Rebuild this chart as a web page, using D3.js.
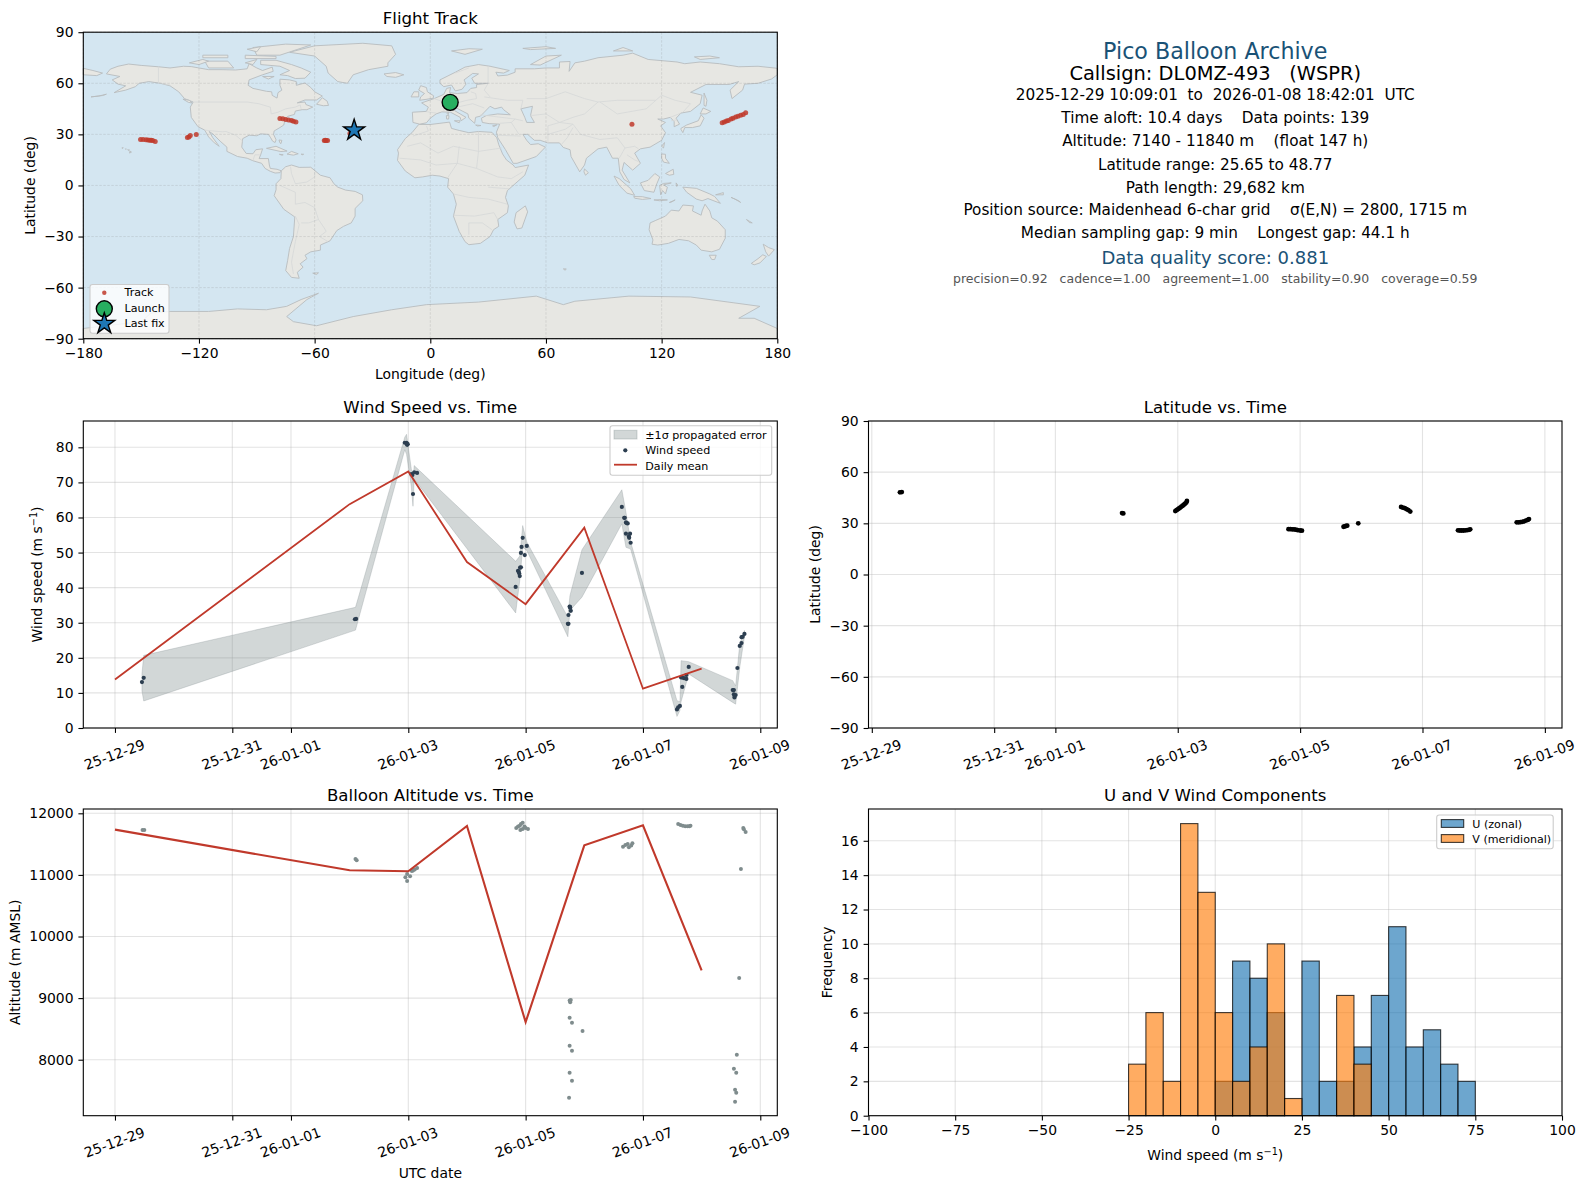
<!DOCTYPE html>
<html>
<head>
<meta charset="utf-8">
<script src="https://cdn.jsdelivr.net/npm/d3@7"></script>
<style>
  html, body { margin: 0; background: #fff; }
  svg { display: block; }
  text { font-family: "DejaVu Sans", sans-serif; white-space: pre; fill: #000; }
</style>
</head>
<body>
<svg id="fig"></svg>
<script>
const [WIDTH, HEIGHT] = [1586, 1189]

// all times are days after 2025-12-29 00:00 UTC
const dateTicks = [0, 2, 3, 5, 7, 9, 11]
const meanDays = [0, 4, 5, 6, 7, 8, 9, 10]

const windDays = [0.46, 0.49, 4.09, 4.11, 4.94, 4.97, 4.98, 4.98, 4.99, 5.05, 5.07, 5.08, 5.10, 5.15,
    6.83, 6.87, 6.88, 6.89, 6.90, 6.905, 6.92, 6.92, 6.93, 6.95, 6.985, 7.02,
    7.72, 7.73, 7.73, 7.755, 7.76, 7.75, 7.77, 7.96,
    8.64, 8.68, 8.69, 8.71, 8.72, 8.74, 8.71, 8.78, 8.76, 8.765, 8.79,
    9.58, 9.60, 9.63, 9.65, 9.67, 9.70, 9.74, 9.74, 9.67, 9.78,
    10.53, 10.55, 10.55, 10.56, 10.58, 10.56, 10.61, 10.65, 10.68, 10.68, 10.70, 10.73]
const windSpeed = [13.1, 14.3, 31.0, 31.1, 81.3, 81.3, 80.7, 80.9, 80.9, 72.4, 72.1, 66.7, 72.9, 72.7,
    40.2, 44.8, 44.6, 44.1, 43.3, 45.7, 45.8, 49.9, 51.6, 54.2, 49.3, 51.9,
    29.7, 29.7, 32.2, 34.5, 34.3, 34.6, 33.4, 44.2,
    63.0, 59.9, 59.9, 58.6, 58.4, 58.3, 55.4, 55.4, 54.6, 54.2, 52.8,
    5.3, 5.9, 6.3, 14.4, 14.4, 14.2, 14.0, 15.1, 11.7, 17.4,
    10.8, 10.8, 9.6, 9.2, 9.4, 8.7, 17.1, 23.4, 24.2, 25.9, 26.0, 26.8]

const bandDays = [0.46, 0.49, 4.10, 4.94, 4.97, 5.05, 5.08, 5.10, 6.83, 6.90, 6.95, 7.02, 7.72, 7.755, 7.96, 8.64, 8.71, 8.79, 9.58, 9.63, 9.65, 9.78, 10.53, 10.58, 10.65, 10.73]
const bandLow = [10.5, 7.7, 27.9, 79.3, 78.0, 69.0, 63.2, 71.0, 32.8, 42.0, 51.5, 50.6, 26.0, 33.5, 37.3, 58.2, 51.5, 51.0, 3.3, 5.0, 7.5, 15.4, 7.3, 6.8, 17.3, 26.0]
const bandHigh = [15.5, 20.7, 34.4, 82.9, 83.7, 74.0, 70.0, 74.8, 47.5, 49.0, 57.7, 53.0, 31.6, 37.7, 50.8, 67.9, 61.5, 53.0, 7.8, 7.5, 19.2, 18.9, 13.5, 12.0, 24.0, 27.8]
const windMean = [13.8, 63.8, 73.1, 47.3, 35.3, 57.1, 11.2, 16.9]

const altDays = [0.47, 0.50, 4.10, 4.12, 4.95, 4.98, 4.98, 5.03, 5.06, 5.08, 5.11, 5.15,
    6.84, 6.87, 6.90, 6.92, 6.95, 6.91, 6.95, 6.98, 7.00, 7.04,
    7.75, 7.77, 7.76, 7.75, 7.79, 7.97, 7.75, 7.79, 7.75, 7.79, 7.74,
    8.66, 8.70, 8.74, 8.76, 8.80, 8.82,
    9.60, 9.64, 9.68, 9.72, 9.76, 9.79, 9.81,
    10.71, 10.72, 10.75, 10.67, 10.64, 10.60, 10.55, 10.59, 10.57, 10.59, 10.57]
const altitude = [11730, 11730, 11259, 11237, 10962, 11016, 10902, 10978, 11064, 11070, 11086, 11113,
    11762, 11784, 11800, 11827, 11848, 11730, 11746, 11784, 11762, 11746,
    8960, 8970, 8933, 8680, 8598, 8468, 8225, 8144, 7787, 7657, 7381,
    11459, 11486, 11503, 11449, 11476, 11514,
    11827, 11811, 11800, 11789, 11789, 11789, 11800,
    11762, 11740, 11697, 11097, 9328, 8079, 7852, 7787, 7511, 7462, 7316]
const altMean = [11735, 11075, 11060, 11795, 8610, 11480, 11805, 9450]

const latDays = [0.46, 0.49, 4.09, 4.11, 4.96, 4.98, 5.00, 5.02, 5.04, 5.06, 5.08, 5.10, 5.12, 5.14, 5.15,
    6.81, 6.84, 6.87, 6.90, 6.93, 6.96, 7.00, 7.03, 7.71, 7.73, 7.75, 7.77, 7.95,
    8.65, 8.68, 8.71, 8.74, 8.77, 8.80, 9.58, 9.61, 9.64, 9.67, 9.70, 9.73, 9.76, 9.78,
    10.54, 10.57, 10.60, 10.63, 10.66, 10.69, 10.72, 10.74]
const latitude = [48.2, 48.3, 36.0, 35.8, 37.2, 37.7, 38.2, 38.7, 39.2, 39.8, 40.3, 40.9, 41.5, 42.2, 43.1,
    26.6, 26.6, 26.5, 26.4, 26.3, 26.0, 25.8, 25.7, 28.0, 28.2, 28.5, 28.6, 30.0,
    39.6, 39.2, 38.9, 38.3, 37.7, 36.9, 25.9, 25.8, 25.8, 25.8, 25.9, 26.0, 26.2, 26.5,
    30.6, 30.6, 30.7, 30.9, 31.2, 31.6, 32.0, 32.5]

const trackLon = [-150.3, -149, -147.5, -146.5, -145.5, -144.8, -144, -142.7, -126, -125.2, -124.5, -121.4,
    -78, -76.5, -75, -73.5, -72, -71, -69.7, -55, -54.5, -54, -53.3, -41.7,
    151.4, 152.5, 153.6, 154.6, 156, 157, 158.4, 159.6, 161, 162.3, 163.6, 104.6]
const trackLat = [27, 27, 26.9, 26.7, 26.6, 26.5, 26.4, 25.8, 28.1, 28.5, 29.3, 29.9,
    39.3, 39.1, 38.8, 38.5, 38.1, 37.7, 37.2, 26.4, 26.5, 26.4, 26.4, 30.5,
    36.8, 37.2, 37.8, 38.2, 39, 39.4, 40.2, 40.6, 41.2, 41.6, 42.7, 36]
const launchLonLat = [10.3, 48.8]
const lastFixLonLat = [-39.5, 32.4]

const uBinStarts = [0, 5, 10, 15, 25, 30, 35, 40, 45, 50, 55, 60, 65, 70]
const uCounts = [2, 9, 8, 6, 9, 2, 2, 4, 7, 11, 4, 5, 3, 2]
const vBinStarts = [-25, -20, -15, -10, -5, 0, 5, 10, 15, 20, 35, 40]
const vCounts = [3, 6, 2, 17, 13, 6, 2, 4, 10, 1, 7, 3]

const infoLines = [
    ['Pico Balloon Archive', 51, 22.2, '#1a5276'],
    ['Callsign: DL0MZ-493   (WSPR)', 73.5, 19.44, '#000'],
    ['2025-12-29 10:09:01  to  2026-01-08 18:42:01  UTC', 95, 15.28, '#000'],
    ['Time aloft: 10.4 days    Data points: 139', 118, 15.28, '#000'],
    ['Altitude: 7140 - 11840 m    (float 147 h)', 141, 15.28, '#000'],
    ['Latitude range: 25.65 to 48.77', 164.5, 15.28, '#000'],
    ['Path length: 29,682 km', 187.5, 15.28, '#000'],
    ['Position source: Maidenhead 6-char grid    σ(E,N) = 2800, 1715 m', 210, 15.28, '#000'],
    ['Median sampling gap: 9 min    Longest gap: 44.1 h', 233, 15.28, '#000'],
    ['Data quality score: 0.881', 257, 18, '#1a5276'],
    ['precision=0.92   cadence=1.00   agreement=1.00   stability=0.90   coverage=0.59', 278, 12.5, '#555'],
]

// rough coastlines, lon/lat
const landPolygons = [
    // north and central america
    [[-168,65.5],[-166,68.3],[-162,70],[-156.5,71.3],[-150,70.5],[-141,69.7],[-135,69],[-128,70],[-124,69.8],[-115,68],[-108,68],[-101,67.8],[-95,68.5],[-94,71.5],[-90,69],[-87,67.5],[-82,69.5],[-81.5,67],[-87,65],[-94,62],[-94.5,58.8],[-92,57],[-85,55.3],[-82.3,55],[-82,52.9],[-79.5,51.3],[-79,54.5],[-77,56],[-78,58.8],[-78,62.4],[-73,62],[-69.5,61],[-69.5,58.8],[-65,60.2],[-62,57.5],[-60,55],[-56,52.5],[-59,50.2],[-65,50.2],[-69,48.5],[-65,49],[-64.5,47.5],[-61,46],[-64,44.5],[-66.5,44.5],[-70,43.7],[-70.5,41.7],[-74,40.6],[-75.5,38],[-76,35.5],[-78,34],[-81,32],[-81.3,30],[-80,26.8],[-80.5,25.2],[-81.8,26],[-82.8,28],[-84,30],[-88,30.3],[-90,29.2],[-94,29.5],[-97.3,27.5],[-97.8,22.5],[-95.5,18.8],[-92,18.6],[-90.5,21],[-87,21.5],[-88,18],[-88.8,15.8],[-84,15.8],[-83.5,12],[-83,10],[-79.5,9.5],[-77.3,8.6],[-78,7.5],[-80.5,7.3],[-83,8.3],[-85.7,10],[-87.5,13],[-92,14.5],[-95,16],[-100,17],[-105.5,20],[-105.5,22.5],[-109,26],[-112.5,30],[-114.7,31.7],[-112.8,28],[-109.5,23],[-112,25],[-115,28.5],[-117,32.5],[-120.5,34.5],[-124,40],[-124.5,46],[-123,49],[-127.5,51],[-130.5,55],[-135,58.5],[-140,60],[-146,61],[-151,60],[-153,58],[-158,56],[-164,54.5],[-158,58.5],[-162,59.5],[-165,62],[-161,64],[-168,65.5]],
    // greenland and arctic islands
    [[-73,78.2],[-60,82],[-35,83.5],[-20,82],[-18,77],[-22,72],[-22,70],[-32,68],[-40,65],[-43,60],[-48,61],[-53,66],[-54,70],[-60,76],[-73,78.2]],
    [[-80,73.5],[-72,71],[-67,69],[-62,66.5],[-65,63],[-70,62.8],[-74,64.5],[-78,65],[-73,67.5],[-78,70],[-88,71],[-88,73.5],[-80,73.5]],
    [[-117,73],[-105,73],[-102,69],[-115,69],[-117,73]],
    [[-90,76.5],[-78,76.5],[-62,82.5],[-75,83],[-92,81],[-90,76.5]],
    [[-125,72],[-118,74],[-115,73],[-120,71],[-125,72]],
    [[-96,74.5],[-80,74.5],[-80,75.8],[-96,76.5],[-96,74.5]],
    [[-118,75],[-105,75],[-105,76.5],[-118,76.5],[-118,75]],
    [[-87,64],[-81,64],[-84,62.5],[-87,64]],
    [[-96,72],[-90,74],[-92,71],[-96,72]],
    [[-95,80],[-88,81.5],[-90,78.5],[-95,80]],
    [[-59,47.7],[-55.5,46.8],[-52.8,47],[-53.5,49.5],[-56,51.5],[-59,47.7]],
    [[-128.3,50.7],[-125,50],[-123.5,48.4],[-125.5,48.8],[-128.3,50.7]],
    // caribbean, hawaii, aleutians
    [[-85,21.8],[-80,23],[-74.3,20.2],[-77.5,19.9],[-85,21.8]],
    [[-74.3,18.4],[-72,20],[-68.5,18.6],[-71,17.8],[-74.3,18.4]],
    [[-78.3,18.3],[-76.3,18],[-77,17.8],[-78.3,18.3]],
    [[-67,18.4],[-65.7,18.3],[-66.5,18],[-67,18.4]],
    [[-78.5,26.7],[-77,26.5],[-77.5,24.5],[-78,25],[-78.5,26.7]],
    [[-156,19],[-155,19.6],[-155.8,20.2],[-156,19]],
    [[-160,22],[-159.3,22.2],[-159.5,21.8],[-160,22]],
    [[-158.2,21.5],[-157.7,21.4],[-158,21.2],[-158.2,21.5]],
    [[-157,21],[-156,20.8],[-156.5,20.5],[-157,21]],
    [[-176,52],[-170,52.8],[-168,53.6],[-172,52.5],[-176,52]],
    [[-180,68.8],[-175,67.5],[-170,66],[-173,64.5],[-180,65],[-180,68.8]],
    // south america
    [[-77.3,8.6],[-75,11],[-72,12],[-68,10.6],[-62,10.7],[-57,6],[-52,4.5],[-50,1],[-48,-1],[-44,-2.7],[-39,-3.5],[-35.2,-5.5],[-35,-9],[-39,-13.5],[-39,-18],[-41,-22],[-45,-24],[-48.5,-26.5],[-52,-32.5],[-57,-35],[-57,-38],[-62,-39],[-65,-41],[-64,-43],[-67.5,-46],[-66,-48],[-69,-51],[-68,-54.5],[-72,-54],[-75,-50],[-74,-44],[-73,-37],[-71,-30],[-70.3,-18.5],[-76,-14],[-81,-6],[-80,-2.5],[-80,1],[-77.5,4],[-77.3,8.6]],
    [[-61,-51.5],[-58,-51.3],[-59,-52.3],[-61,-51.5]],
    // africa
    [[-6,35.8],[0,35.8],[10,37.2],[11,33.5],[15,32.3],[20,31],[25,31.7],[32,31.2],[34.5,28],[35.5,24],[37.5,18.5],[39.5,15],[43,12],[44,10.5],[51,12],[49,6],[44,1],[40,-3],[39,-7],[40.5,-12],[40,-16],[35,-20],[35.5,-24],[32.8,-26],[31,-30],[26,-34],[20,-34.8],[18,-33],[15,-27],[12,-18],[13.5,-11],[12,-5],[9,-1],[9.5,4],[5,5.5],[1,6],[-4,5],[-8,4.5],[-13,8.5],[-17,14.7],[-16.5,19],[-17,21],[-13,27.5],[-9.5,31],[-6,35.8]],
    [[49.3,-12],[50.5,-15.5],[47.5,-25],[45,-25.5],[43.5,-21.5],[44.5,-16],[49.3,-12]],
    [[69,-49],[70.5,-49],[70,-49.8],[69,-49]],
    // eurasia
    [[-9,37],[-9.3,43],[-2,43.5],[-1,46],[-4.5,48.5],[2,51],[7,53.5],[8.5,57],[10.5,57.5],[10,54.5],[14,54],[19,54.5],[21,57],[24,57.5],[24,59.3],[30,60],[23,60],[21.5,63],[25,65.5],[22,65.8],[17.5,62],[18.5,59.5],[16.5,56.5],[13,55.5],[11,59],[7,58],[5,60],[5,62],[13,66.5],[18,69.5],[25,71],[31,70],[41,67.5],[38,66],[34,66.5],[35,64.3],[40,64.8],[44,66.5],[44,68.5],[54,68.5],[60,69],[67,69],[67,72.5],[72.5,72.8],[72,67],[75,72],[80,73],[87,75],[100,76.5],[105,77.7],[113,74],[128,72.5],[132,71.5],[140,72.5],[150,71.5],[160,69.7],[170,70],[180,68.8],[180,65],[177,62.5],[170,60],[163,59.5],[162,56],[156.5,51],[155.5,56],[160,61],[155,59.3],[143,59.3],[135,54.7],[141,53],[140,48],[135,43.5],[130,42.5],[127.5,39.5],[129.3,36],[126.5,34.5],[126.5,37.5],[124.5,40],[121,39],[118,39],[122,37],[119.5,35],[122,31],[120,26.5],[114,22.5],[109,21.5],[106,19],[109,13],[105,9],[100.5,13.5],[99.5,9],[103.5,1.5],[100.5,3.5],[98.3,8],[97.5,16],[94.5,16],[91.5,22.5],[87,21.5],[81,16],[80,12],[77.5,8],[73,17],[72.5,21],[69,22.3],[67,25],[61,25],[57,26.5],[54,26.5],[50.5,30],[48,30],[50,26.5],[52,24],[56,24.5],[59.7,22.5],[55,17],[45,13],[43,13],[39,21],[35,28],[34.3,31.3],[36,36],[30.5,36.3],[27,37],[26.5,39.5],[29,41],[35,42],[41.5,41.5],[38,44.5],[37,46],[33.5,45],[31,46.5],[28,43],[26,40.7],[23.5,40],[23,36.5],[20,39.5],[19.5,42],[13.5,45.5],[12.5,44],[18.5,40],[16,38],[15.5,40],[10.5,43],[6,43.2],[3,42],[0,39.5],[-2,36.8],[-5.5,36],[-9,37]],
    // european and asian islands
    [[-5.5,50],[1.5,51.2],[1.7,52.7],[-1.5,55],[-2,57.5],[-5,58.6],[-6,56],[-3,54],[-5,52],[-5.5,50]],
    [[-10,52],[-6,52],[-6,55],[-8.5,55],[-10,52]],
    [[-24,65.5],[-18,66.3],[-13.7,65],[-18,63.5],[-22.5,64],[-24,65.5]],
    [[11,79],[20,80.3],[27,80],[18,77],[11,79]],
    [[52,71],[57,70.7],[68,76.5],[60,76],[52,71]],
    [[48,80.5],[60,81.5],[65,80.5],[52,79.8],[48,80.5]],
    [[95,79],[105,79],[100,81],[95,79]],
    [[137,75.5],[145,76],[150,75],[140,74],[137,75.5]],
    [[8.3,41],[9.7,41],[9.5,39],[8.5,39],[8.3,41]],
    [[8.6,42.5],[9.5,43],[9.3,41.5],[8.6,42.5]],
    [[12.5,38],[15.5,38],[15,36.8],[12.5,38]],
    [[23.5,35.5],[26.3,35.2],[24.5,34.9],[23.5,35.5]],
    [[32.3,35],[34.5,35.6],[33,34.6],[32.3,35]],
    [[142,54.3],[143.5,50],[143,46.5],[142,47],[142,54.3]],
    [[130,33],[131,31],[132,34],[136,34],[140,35],[142,39.5],[140.5,41.5],[139,38],[133,35.5],[130,33.5],[130,33]],
    [[140,42],[141.5,45.5],[145.5,43.5],[143,42],[140,42]],
    [[120,23],[121.5,25.2],[121,22],[120,23]],
    [[120,18.5],[122,18.3],[122,16],[124,13],[121,13.7],[120,16],[120,18.5]],
    [[122,7],[126,9.5],[126.3,6.5],[124,6],[122,7]],
    [[109,1.5],[113,3],[116.5,7],[119,5],[117.5,1],[116,-4],[111,-3],[109,1.5]],
    [[95.3,5.5],[98,4],[104,-2],[106,-5.8],[102,-4.5],[98,0],[95.3,5.5]],
    [[105.5,-6.5],[110,-6.6],[114.5,-7.7],[110,-8.2],[106,-7.5],[105.5,-6.5]],
    [[116,-8.5],[120,-8.3],[123,-8.5],[119,-9],[116,-8.5]],
    [[124,-10],[127,-8.5],[125,-9.8],[124,-10]],
    [[119.5,-5.5],[119,0],[121,1.2],[125,1.5],[121,0.3],[123,-1],[122,-5],[120.5,-3],[119.5,-5.5]],
    [[127.5,1.5],[128.5,0],[127.7,-0.5],[127.5,1.5]],
    [[131,-1],[138,-1.7],[145,-5],[147.5,-6.5],[150.5,-10.5],[144,-7.7],[141,-9],[138,-8],[133,-4],[131,-1]],
    [[148,-5.5],[152,-4.2],[152,-5.5],[148,-5.5]],
    [[156,-7],[160,-9],[161,-10],[158,-8],[156,-7]],
    [[164,-20],[167,-22],[165.5,-21.8],[164,-20]],
    [[80,9.7],[82,7.5],[80.5,6],[79.7,8],[80,9.7]],
    // australia, new zealand
    [[114,-22],[113.5,-26],[115.5,-32],[115,-34.5],[118,-35],[123.5,-34],[129,-31.7],[134,-32.5],[138,-35],[140.5,-38],[146,-39],[150,-37.5],[153,-31],[153,-26],[149,-21],[146,-19],[145,-15],[142.5,-11],[141,-15],[140.5,-17.5],[136,-15],[136.5,-12],[131,-11.5],[129,-15],[125,-14.5],[122,-18],[117,-20.5],[114,-22]],
    [[144.7,-41],[148.3,-41],[147.5,-43.5],[146,-43.5],[144.7,-41]],
    [[172.7,-34.5],[175.5,-36.5],[178.5,-37.7],[175.5,-41.5],[174,-39],[172.7,-34.5]],
    [[172.5,-40.7],[174.3,-41.7],[171,-45.5],[168,-46.6],[166.5,-45.8],[170,-43],[172.5,-40.7]],
    // antarctica
    [[-180,-84],[-150,-80],[-145,-75],[-135,-74],[-115,-74],[-100,-72.5],[-85,-73],[-74.5,-71],[-67,-67],[-58,-63.3],[-64,-67],[-74.5,-77],[-71,-80],[-59,-82.4],[-40,-77],[-20,-73],[-2,-70],[25,-68.5],[55,-65],[69,-70],[75,-68],[103,-65],[135,-65.5],[171,-71],[160,-78],[168,-78],[180,-84],[180,-90],[-180,-90],[-180,-84]],
]
const lakes = [
    [[47,45],[53,46.5],[52,41],[54,37],[50,37],[49,40],[47,45]],
]
const borderLines = [
    [[-123,49],[-95,49],[-89,48],[-83,46],[-82.5,42],[-79,43],[-75,45],[-70,46],[-67.5,47.3],[-67,45]],
    [[-141,69.7],[-141,60.3],[-135,59]],
    [[-117,32.5],[-108,31.5],[-106,31.7],[-101,29.5],[-97.3,26]],
    [[-92,14.7],[-91,18],[-88.5,18]],
    [[-78,0],[-70,-4],[-70,-11],[-65,-10],[-60,-13],[-58,-20],[-55,-25],[-54,-27],[-57.5,-30],[-53,-33]],
    [[-70,-18],[-68,-23],[-70,-33],[-72,-45],[-71,-52]],
    [[-60,8],[-60,5],[-64,2],[-70,1],[-72,7],[-72.5,11]],
    [[-58,-20],[-63,-22],[-67,-22]],
    [[-9,29],[-1,32],[-2,35]],
    [[-12,23],[-5,25],[4,19],[12,23],[25,20],[37,22]],
    [[25,31.5],[25,20],[24,10],[35,5]],
    [[9,4.5],[14,13],[15,23]],
    [[-16,16],[-5,15],[3,12],[14,13],[24,10]],
    [[12,-5],[20,-7],[30,-8],[40,-11]],
    [[12,-17.5],[23,-18],[33,-16],[35,-20]],
    [[20,-29],[20,-22],[27,-22],[32,-26]],
    [[30,-1],[41,-2]],
    [[35,5],[42,4],[48,8]],
    [[2,51],[7,49],[7.5,47.5],[14,48.5],[19,50],[24,51],[23.5,54],[21,55]],
    [[-2,43.3],[3,42.5]],
    [[7,43.8],[7.5,47]],
    [[14,46],[22,48],[28,45.5]],
    [[28,52],[40,50],[48,50],[47,45]],
    [[30,60],[28,56],[31,52]],
    [[30,70],[30,60]],
    [[13,66],[20,69]],
    [[26,41.5],[44,39],[48,38]],
    [[36,36.5],[42,37],[44,39]],
    [[46,30],[42,37]],
    [[35,29.5],[47,29]],
    [[52,41],[60,42],[67,37],[61,35],[61,25]],
    [[74,36],[67,37]],
    [[61,30],[70,33],[74,36],[78,30],[88,27],[97,28],[101,22],[106,23],[108,21.5]],
    [[68,24],[71,28],[74,34]],
    [[50,51],[60,51],[70,55],[80,51],[87,49],[97,50],[107,50],[117,50],[120,53],[127,50],[135,48],[131,43]],
    [[87,49],[80,42],[74,40],[67,37]],
    [[97,42],[112,45],[117,50]],
    [[88,49],[97,42]],
    [[98,16],[100,20],[101,22]],
    [[102,18],[106,15],[108,14]],
    [[124.5,40],[130,42.5]],
    [[125,38],[128,38.5]],
]

const RED = '#c0392b'
const NAVY = '#2c3e50'
const GREY = '#7f8c8d'
const TICK_FONT = 13.9

const panels = {
    map: { left: 83.3, right: 777.3, top: 32.2, bottom: 338.7 },
    info: { left: 868.5, right: 1562 },
    wind: { left: 83.3, right: 777.3, top: 421, bottom: 728 },
    lat: { left: 868.5, right: 1562, top: 421, bottom: 728 },
    alt: { left: 83.3, right: 777.3, top: 809, bottom: 1115.7 },
    hist: { left: 868.5, right: 1562, top: 809, bottom: 1115.7 },
}

const svg = d3.select('#fig')
    .attr('viewBox', '0 0 ' + WIDTH + ' ' + HEIGHT)
    .attr('width', WIDTH)
    .attr('height', HEIGHT)

const dayToDate = d => new Date(Date.UTC(2025, 11, 29) + d * 864e5)

function xDates(p, domain) {
    return d3.scaleUtc().domain(domain.map(dayToDate)).range([p.left, p.right])
}

function drawGrid(g, p, x, y, xVals, yVals) {
    const grid = g.append('g').attr('stroke', '#b0b0b0').attr('stroke-opacity', 0.35).attr('stroke-width', 1.1)
    grid.selectAll('.v').data(xVals).join('line').attr('class', 'v')
        .attr('x1', d => x(d)).attr('x2', d => x(d)).attr('y1', p.top).attr('y2', p.bottom)
    grid.selectAll('.h').data(yVals).join('line').attr('class', 'h')
        .attr('x1', p.left).attr('x2', p.right).attr('y1', d => y(d)).attr('y2', d => y(d))
}

function drawAxes(g, p, xAxis, yAxis, rotated) {
    const xg = g.append('g').attr('transform', `translate(0,${p.bottom})`).call(xAxis.tickSizeOuter(0).tickSize(4.9).tickPadding(4.9))
    const yg = g.append('g').attr('transform', `translate(${p.left},0)`).call(yAxis.tickSizeOuter(0).tickSize(4.9).tickPadding(4.9))
    for (const a of [xg, yg]) {
        a.select('.domain').remove()
        a.selectAll('line').attr('stroke', '#000').attr('stroke-width', 1.1)
        a.selectAll('text').attr('font-size', TICK_FONT).attr('font-family', '"DejaVu Sans", sans-serif')
    }
    if (rotated) {
        xg.selectAll('text')
            .attr('y', 0).attr('dy', 0)
            .attr('dominant-baseline', 'central')
            .attr('text-anchor', 'middle')
            .attr('transform', 'translate(-1,26.5) rotate(-20)')
    }
    g.append('rect')
        .attr('x', p.left).attr('y', p.top)
        .attr('width', p.right - p.left).attr('height', p.bottom - p.top)
        .attr('fill', 'none').attr('stroke', '#000').attr('stroke-width', 1.1)
}

function title(g, p, txt) {
    g.append('text').attr('x', (p.left + p.right) / 2).attr('y', p.top - 8)
        .attr('text-anchor', 'middle').attr('font-size', 16.6).text(txt)
}

function xLabel(g, p, txt, y) {
    return g.append('text').attr('x', (p.left + p.right) / 2).attr('y', y)
        .attr('text-anchor', 'middle').attr('font-size', TICK_FONT).text(txt)
}

function yLabel(g, p, txt, x) {
    return g.append('text')
        .attr('transform', `translate(${x},${(p.top + p.bottom) / 2}) rotate(-90)`)
        .attr('text-anchor', 'middle').attr('font-size', TICK_FONT).text(txt)
}

// "m s^-1" with a real superscript
function unitLabel(sel, before) {
    sel.text(null)
    sel.append('tspan').text(before + ' (m s')
    sel.append('tspan').attr('dy', -5).attr('font-size', 9.7).text('−1')
    sel.append('tspan').attr('dy', 5).text(')')
}

function legendBox(g, x, y, w, h) {
    g.append('rect').attr('x', x).attr('y', y).attr('width', w).attr('height', h).attr('rx', 2.5)
        .attr('fill', '#fff').attr('fill-opacity', 0.8).attr('stroke', '#ccc').attr('stroke-width', 1.1)
}

function legendText(g, x, y, txt) {
    g.append('text').attr('x', x).attr('y', y).attr('dominant-baseline', 'central')
        .attr('font-size', 11.1).attr('fill', '#000').text(txt)
}

function drawMap() {
    const p = panels.map
    const g = svg.append('g')
    const x = d3.scaleLinear().domain([-180, 180]).range([p.left, p.right])
    const y = d3.scaleLinear().domain([-90, 90]).range([p.bottom, p.top])
    const lonTicks = d3.range(-180, 181, 60)
    const latTicks = d3.range(-90, 91, 30)
    const geoLine = d3.line().x(d => x(d[0])).y(d => y(d[1]))

    g.append('rect').attr('x', p.left).attr('y', p.top)
        .attr('width', p.right - p.left).attr('height', p.bottom - p.top).attr('fill', '#d4e6f1')
    g.selectAll('.land').data(landPolygons).join('path').attr('class', 'land')
        .attr('d', d => geoLine(d) + 'Z')
        .attr('fill', '#e7e7e3').attr('stroke', '#b8bcbe').attr('stroke-width', 0.9).attr('stroke-linejoin', 'round')
    g.selectAll('.lake').data(lakes).join('path').attr('class', 'lake')
        .attr('d', d => geoLine(d) + 'Z')
        .attr('fill', '#d4e6f1').attr('stroke', '#b8bcbe').attr('stroke-width', 0.9)
    g.selectAll('.border').data(borderLines).join('path').attr('class', 'border')
        .attr('d', geoLine).attr('fill', 'none').attr('stroke', '#d6d8d8').attr('stroke-width', 0.8)

    const grid = g.append('g').attr('stroke', '#888').attr('stroke-opacity', 0.3)
        .attr('stroke-width', 0.7).attr('stroke-dasharray', '2.5,1.5')
    grid.selectAll('.v').data(lonTicks).join('line').attr('class', 'v')
        .attr('x1', d => x(d)).attr('x2', d => x(d)).attr('y1', p.top).attr('y2', p.bottom)
    grid.selectAll('.h').data(latTicks).join('line').attr('class', 'h')
        .attr('x1', p.left).attr('x2', p.right).attr('y1', d => y(d)).attr('y2', d => y(d))

    g.selectAll('.trk').data(d3.zip(trackLon, trackLat)).join('circle').attr('class', 'trk')
        .attr('cx', d => x(d[0])).attr('cy', d => y(d[1])).attr('r', 2.5)
        .attr('fill', RED).attr('fill-opacity', 0.85)
    g.append('circle').attr('cx', x(launchLonLat[0])).attr('cy', y(launchLonLat[1])).attr('r', 8)
        .attr('fill', '#27ae60').attr('stroke', '#000').attr('stroke-width', 1.4)
    const star = d3.symbol(d3.symbolStar, 135)
    g.append('path').attr('d', star())
        .attr('transform', `translate(${x(lastFixLonLat[0])},${y(lastFixLonLat[1])})`)
        .attr('fill', '#1f77b4').attr('stroke', '#000').attr('stroke-width', 1.4)

    drawAxes(g, p, d3.axisBottom(x).tickValues(lonTicks), d3.axisLeft(y).tickValues(latTicks), false)
    title(g, p, 'Flight Track')
    xLabel(g, p, 'Longitude (deg)', 378.5)
    yLabel(g, p, 'Latitude (deg)', 35)

    legendBox(g, 90, 284.5, 79, 48.7)
    g.append('circle').attr('cx', 104.3).attr('cy', 292.8).attr('r', 2.2).attr('fill', RED).attr('fill-opacity', 0.85)
    g.append('circle').attr('cx', 104.3).attr('cy', 308.8).attr('r', 8)
        .attr('fill', '#27ae60').attr('stroke', '#000').attr('stroke-width', 1.4)
    g.append('path').attr('d', star()).attr('transform', 'translate(104.3,323.8)')
        .attr('fill', '#1f77b4').attr('stroke', '#000').attr('stroke-width', 1.4)
    legendText(g, 124.5, 292.8, 'Track')
    legendText(g, 124.5, 308.8, 'Launch')
    legendText(g, 124.5, 323.8, 'Last fix')
}

function drawInfo() {
    const p = panels.info
    svg.append('g').selectAll('text').data(infoLines).join('text')
        .attr('x', (p.left + p.right) / 2)
        .attr('y', d => d[1])
        .attr('dominant-baseline', 'central')
        .attr('text-anchor', 'middle')
        .attr('font-size', d => d[2])
        .style('fill', d => d[3])
        .text(d => d[0])
}

function drawWind() {
    const p = panels.wind
    const g = svg.append('g')
    const x = xDates(p, [-0.54, 11.29])
    const y = d3.scaleLinear().domain([0, 87.5]).range([p.bottom, p.top])
    const yTicks = d3.range(0, 81, 10)
    drawGrid(g, p, d => x(dayToDate(d)), y, dateTicks, yTicks)

    const band = d3.area().x(d => x(dayToDate(d[0]))).y0(d => y(d[1])).y1(d => y(d[2]))
    g.append('path').attr('d', band(d3.zip(bandDays, bandLow, bandHigh)))
        .attr('fill', GREY).attr('fill-opacity', 0.35).attr('stroke', GREY).attr('stroke-opacity', 0.35).attr('stroke-width', 0.8)
    g.selectAll('.pt').data(d3.zip(windDays, windSpeed)).join('circle').attr('class', 'pt')
        .attr('cx', d => x(dayToDate(d[0]))).attr('cy', d => y(d[1])).attr('r', 2.1).attr('fill', NAVY)
    const meanLine = d3.line().x(d => x(dayToDate(d[0]))).y(d => y(d[1]))
    g.append('path').attr('d', meanLine(d3.zip(meanDays, windMean)))
        .attr('fill', 'none').attr('stroke', RED).attr('stroke-width', 1.8)

    drawAxes(g, p, d3.axisBottom(x).tickValues(dateTicks.map(dayToDate)).tickFormat(d3.utcFormat('%y-%m-%d')),
        d3.axisLeft(y).tickValues(yTicks), true)
    title(g, p, 'Wind Speed vs. Time')
    unitLabel(yLabel(g, p, '', 42), 'Wind speed')

    legendBox(g, 610, 425.7, 161.7, 49.5)
    g.append('rect').attr('x', 614).attr('y', 430.3).attr('width', 23).attr('height', 8.7)
        .attr('fill', GREY).attr('fill-opacity', 0.35).attr('stroke', GREY).attr('stroke-opacity', 0.35)
    g.append('circle').attr('cx', 625.3).attr('cy', 450.3).attr('r', 2.1).attr('fill', NAVY)
    g.append('line').attr('x1', 614).attr('x2', 637).attr('y1', 464.7).attr('y2', 464.7).attr('stroke', RED).attr('stroke-width', 1.8)
    legendText(g, 645.3, 435.3, '±1σ propagated error')
    legendText(g, 645.3, 450.3, 'Wind speed')
    legendText(g, 645.3, 466, 'Daily mean')
}

function drawLat() {
    const p = panels.lat
    const g = svg.append('g')
    const x = xDates(p, [-0.054, 11.28])
    const y = d3.scaleLinear().domain([-90, 90]).range([p.bottom, p.top])
    const yTicks = d3.range(-90, 91, 30)
    drawGrid(g, p, d => x(dayToDate(d)), y, dateTicks, yTicks)
    g.selectAll('.pt').data(d3.zip(latDays, latitude)).join('circle').attr('class', 'pt')
        .attr('cx', d => x(dayToDate(d[0]))).attr('cy', d => y(d[1])).attr('r', 2.4).attr('fill', '#000')
    drawAxes(g, p, d3.axisBottom(x).tickValues(dateTicks.map(dayToDate)).tickFormat(d3.utcFormat('%y-%m-%d')),
        d3.axisLeft(y).tickValues(yTicks), true)
    title(g, p, 'Latitude vs. Time')
    yLabel(g, p, 'Latitude (deg)', 820)
}

function drawAlt() {
    const p = panels.alt
    const g = svg.append('g')
    const x = xDates(p, [-0.54, 11.29])
    const y = d3.scaleLinear().domain([7091, 12070]).range([p.bottom, p.top])
    const yTicks = d3.range(8000, 12001, 1000)
    drawGrid(g, p, d => x(dayToDate(d)), y, dateTicks, yTicks)
    g.selectAll('.pt').data(d3.zip(altDays, altitude)).join('circle').attr('class', 'pt')
        .attr('cx', d => x(dayToDate(d[0]))).attr('cy', d => y(d[1])).attr('r', 2).attr('fill', GREY)
    const meanLine = d3.line().x(d => x(dayToDate(d[0]))).y(d => y(d[1]))
    g.append('path').attr('d', meanLine(d3.zip(meanDays, altMean)))
        .attr('fill', 'none').attr('stroke', RED).attr('stroke-width', 2.1)
    drawAxes(g, p, d3.axisBottom(x).tickValues(dateTicks.map(dayToDate)).tickFormat(d3.utcFormat('%y-%m-%d')),
        d3.axisLeft(y).tickValues(yTicks).tickFormat(d3.format('d')), true)
    title(g, p, 'Balloon Altitude vs. Time')
    xLabel(g, p, 'UTC date', 1177.5)
    yLabel(g, p, 'Altitude (m AMSL)', 20)
}

function drawHist() {
    const p = panels.hist
    const g = svg.append('g')
    const x = d3.scaleLinear().domain([-100, 100]).range([p.left, p.right])
    const y = d3.scaleLinear().domain([0, 17.85]).range([p.bottom, p.top])
    const xTicks = d3.range(-100, 101, 25)
    const yTicks = d3.range(0, 17, 2)
    drawGrid(g, p, x, y, xTicks, yTicks)

    const bars = (starts, counts, color) => g.append('g')
        .selectAll('rect').data(d3.zip(starts, counts)).join('rect')
        .attr('x', d => x(d[0])).attr('width', d => x(d[0] + 5) - x(d[0]))
        .attr('y', d => y(d[1])).attr('height', d => y(0) - y(d[1]))
        .attr('fill', color).attr('fill-opacity', 0.65)
        .attr('stroke', '#000').attr('stroke-opacity', 0.75).attr('stroke-width', 1.1)
    bars(uBinStarts, uCounts, '#1f77b4')
    bars(vBinStarts, vCounts, '#ff7f0e')

    drawAxes(g, p, d3.axisBottom(x).tickValues(xTicks), d3.axisLeft(y).tickValues(yTicks), false)
    title(g, p, 'U and V Wind Components')
    unitLabel(xLabel(g, p, '', 1159.5), 'Wind speed')
    yLabel(g, p, 'Frequency', 832)

    legendBox(g, 1436.7, 815, 116.5, 33.8)
    const swatch = (y0, color) => g.append('rect').attr('x', 1441.3).attr('y', y0).attr('width', 22.4).attr('height', 7.8)
        .attr('fill', color).attr('fill-opacity', 0.65).attr('stroke', '#000').attr('stroke-opacity', 0.75).attr('stroke-width', 1.1)
    swatch(819.6, '#1f77b4')
    swatch(834.6, '#ff7f0e')
    legendText(g, 1472.3, 824.3, 'U (zonal)')
    legendText(g, 1472.3, 839.3, 'V (meridional)')
}

drawMap()
drawInfo()
drawWind()
drawLat()
drawAlt()
drawHist()
</script>
</body>
</html>
